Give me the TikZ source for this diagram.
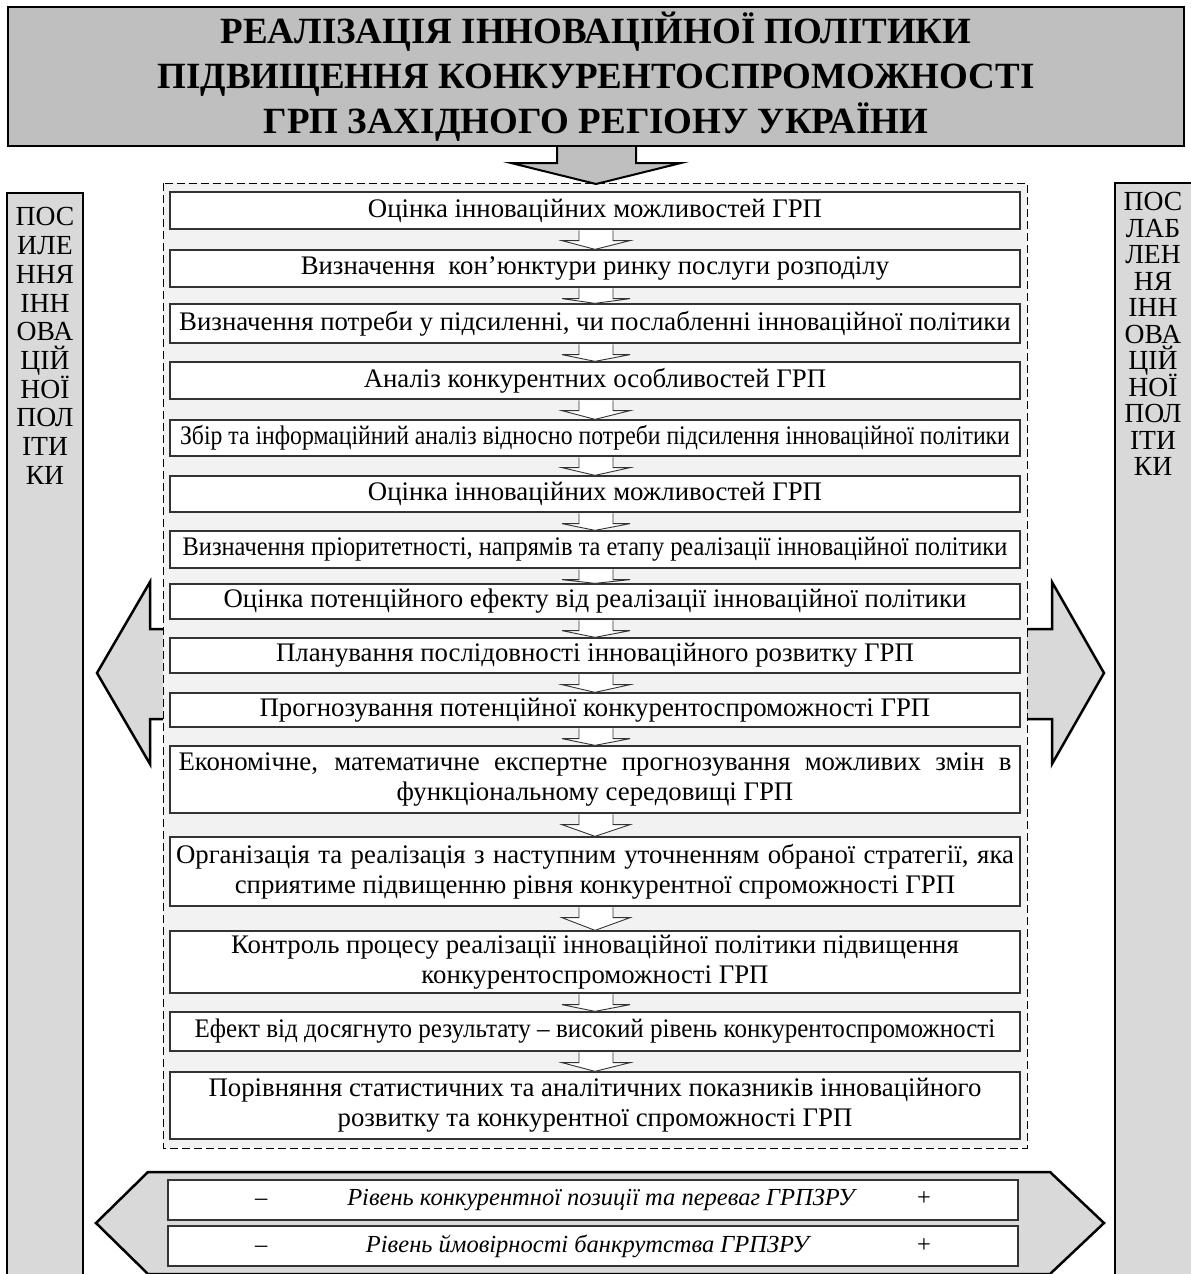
\documentclass[tikz,border=0pt]{standalone}
\usepackage{fontspec}
\setmainfont{Liberation Serif}
\newfontfamily\condA[FakeStretch=0.885]{Liberation Serif}
\newfontfamily\condB[FakeStretch=0.91]{Liberation Serif}
\newfontfamily\condC[FakeStretch=0.935]{Liberation Serif}
\usepackage{tikz}
\usetikzlibrary{calc,positioning}
\definecolor{titlegray}{HTML}{BFBFBF}
\definecolor{sidegray}{HTML}{D9D9D9}
\definecolor{panelgray}{HTML}{F2F2F2}
\definecolor{boxline}{HTML}{333333}
\newcommand\tightlines{\lineskiplimit=-100pt\relax}

\begin{document}
\begin{tikzpicture}
[x=1pt,y=-1pt,
stepbox/.style={draw=boxline,line width=1.3pt,fill=white,minimum width=850pt,
	align=center,inner sep=0pt,font=\fontsize{26.8}{30}\selectfont},
levelbox/.style={stepbox,minimum height=40pt,font=\fontsize{24.5}{30}\selectfont},
smallarrow/.style={draw=boxline,line width=0.9pt,fill=white},
bigshape/.style={draw=black,line width=2.5pt,fill=sidegray,line join=miter},
sidetext/.style={align=center,inner sep=0pt,anchor=north}]
\useasboundingbox (0,0) rectangle (1191,1274);

\filldraw[bigshape] (97,673) -- (150,582) -- (150,629) -- (1052,629) -- (1052,582)
	-- (1104,673) -- (1052,764) -- (1052,719) -- (150,719) -- (150,764) -- cycle;
\filldraw[fill=panelgray,draw=black,line width=0.8pt,dash pattern=on 8pt off 4pt]
	(163,183) rectangle (1027,1148);

\node[stepbox,minimum height=37pt] (b1) at (595,210.5) {Оцінка інноваційних можливостей ГРП};
\node[stepbox,minimum height=37pt] (b2) at (595,268.5) {Визначення~ кон’юнктури ринку послуги розподілу};
\node[stepbox,minimum height=39pt] (b3) at (595,323.5) {Визначення потреби у підсиленні, чи послабленні інноваційної політики};
\node[stepbox,minimum height=37pt] (b4) at (595,380.5) {Аналіз конкурентних особливостей ГРП};
\node[stepbox,minimum height=36pt] (b5) at (595,438) {\condA Збір та інформаційний аналіз відносно потреби підсилення інноваційної політики};
\node[stepbox,minimum height=36pt] (b6) at (595,494) {Оцінка інноваційних можливостей ГРП};
\node[stepbox,minimum height=37pt] (b7) at (595,549.5) {\condB Визначення пріоритетності, напрямів та етапу реалізації інноваційної політики};
\node[stepbox,minimum height=35pt] (b8) at (595,601.5) {Оцінка потенційного ефекту від реалізації інноваційної політики};
\node[stepbox,minimum height=35pt] (b9) at (595,655.5) {Планування послідовності інноваційного розвитку ГРП};
\node[stepbox,minimum height=34pt] (b10) at (595,710) {Прогнозування потенційної конкурентоспроможності ГРП};
\node[stepbox,minimum height=67pt] (b11) at (595,779.5) {\makebox[833pt][s]{Економічне, математичне експертне прогнозування можливих змін в}\\функціональному середовищі ГРП};
\node[stepbox,minimum height=69pt] (b12) at (595,871.5) {\makebox[838pt][s]{Організація та реалізація з наступним уточненням обраної стратегії, яка}\\сприятиме підвищенню рівня конкурентної спроможності ГРП};
\node[stepbox,minimum height=62pt] (b13) at (595,962) {Контроль процесу реалізації інноваційної політики підвищення\\конкурентоспроможності ГРП};
\node[stepbox,minimum height=39pt] (b14) at (595,1031.5) {\condC Ефект від досягнуто результату – високий рівень конкурентоспроможності};
\node[stepbox,minimum height=67pt] (b15) at (595,1105.5) {Порівняння статистичних та аналітичних показників інноваційного\\розвитку та конкурентної спроможності ГРП};

\foreach \a/\b in {b1/b2,b2/b3,b3/b4,b4/b5,b5/b6,b6/b7,b7/b8,b8/b9,b9/b10,b10/b11,b11/b12,b12/b13,b13/b14,b14/b15}
{
	\filldraw[smallarrow] ($(\a.south)+(-16,0.7)$) -- ($(\a.south)+(-16,11)$) -- ($(\a.south)+(-33,11)$)
		-- (\b.north) -- ($(\a.south)+(35,11)$) -- ($(\a.south)+(18,11)$) -- ($(\a.south)+(18,0.7)$);
}

\filldraw[fill=titlegray,draw=black,line width=2pt] (557,146) -- (557,163) -- (511,163) -- (596,184)
	-- (681,163) -- (636,163) -- (636,146);
\node[draw=black,line width=2.5pt,fill=titlegray,minimum width=1176pt,minimum height=139pt,align=center,
	font=\fontsize{37}{45}\selectfont\bfseries] (title) at (596,76.5)
	{РЕАЛІЗАЦІЯ ІННОВАЦІЙНОЇ ПОЛІТИКИ\\ПІДВИЩЕННЯ КОНКУРЕНТОСПРОМОЖНОСТІ\\ГРП ЗАХІДНОГО РЕГІОНУ УКРАЇНИ};

\filldraw[bigshape] (7,193) rectangle (83,1290);
\filldraw[bigshape] (1115,183) rectangle (1196,1290);
\node[sidetext,font=\fontsize{27.6}{28.7}\selectfont\tightlines] (left) at (45,207.5)
	{ПОС\\ИЛЕ\\ННЯ\\ІНН\\ОВА\\ЦІЙ\\НОЇ\\ПОЛ\\ІТИ\\КИ};
\node[sidetext,font=\fontsize{27.6}{26.5}\selectfont\tightlines] (right) at (1153,192.5)
	{ПОС\\ЛАБ\\ЛЕН\\НЯ\\ІНН\\ОВА\\ЦІЙ\\НОЇ\\ПОЛ\\ІТИ\\КИ};

\filldraw[bigshape] (96,1223) -- (148,1172) -- (1050,1172) -- (1104,1223) -- (1050,1274) -- (148,1274) -- cycle;
\node[levelbox] (lvl1) at (593,1200)
	{\makebox[676pt]{–\hfill\hspace*{20pt}\textit{Рівень конкурентної позиції та переваг ГРПЗРУ}\hfill+}};
\node[levelbox] (lvl2) at (593,1246)
	{\makebox[676pt]{–\hfill\textit{Рівень ймовірності банкрутства ГРПЗРУ}\hspace*{7pt}\hfill+}};
\end{tikzpicture}
\end{document}
